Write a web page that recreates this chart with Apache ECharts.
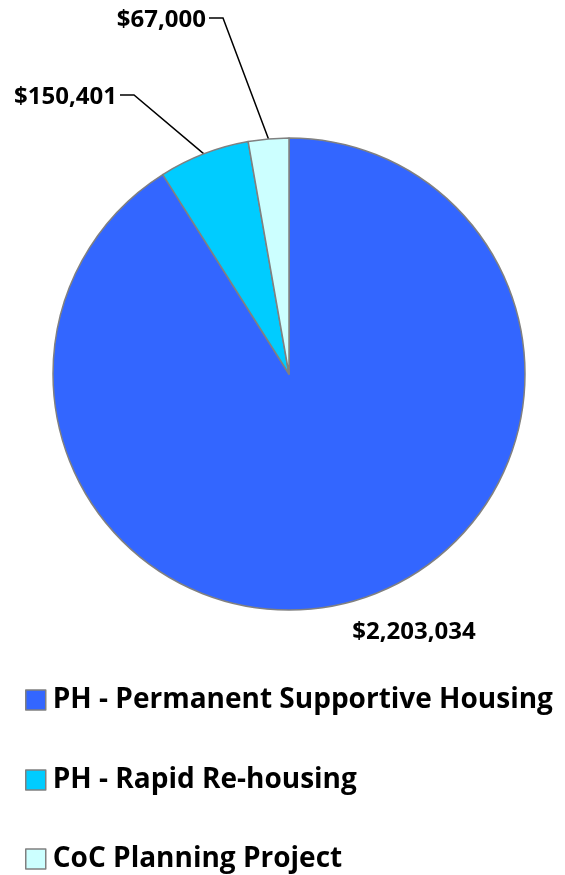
<!DOCTYPE html>
<html>
<head>
<meta charset="utf-8">
<script src="https://cdn.jsdelivr.net/npm/echarts@6/dist/echarts.min.js"></script>
<style>
  html, body { margin: 0; padding: 0; background: #fff; }
  #chart { width: 565px; height: 875px; }
</style>
</head>
<body>
<div id="chart"></div>
<script>
  // data
  const categories = ['PH - Permanent Supportive Housing', 'PH - Rapid Re-housing', 'CoC Planning Project'];
  const amounts = [2203034, 150401, 67000];
  const colors = ['#3366FF', '#00CCFF', '#CCFFFF'];

  // where each label sits (x, y of its anchor)
  const labelPos = [[414, 632], [117, 97], [206, 20]];
  // top of each legend row
  const legendTops = [681, 761, 840];

  const fontFamily = '"Open Sans", Lato, sans-serif';
  const chart = echarts.init(document.getElementById('chart'));

  const fmt = v => '$' + v.toLocaleString('en-US');

  // one legend per row so the rows never wrap into a second column
  const legends = categories.map((name, i) => ({
    orient: 'vertical',
    left: 20,
    top: legendTops[i],
    itemWidth: 20,
    itemHeight: 20,
    icon: 'rect',
    itemStyle: { borderColor: '#808080', borderWidth: 1.5 },
    textStyle: { fontFamily, fontWeight: 'bold', fontSize: 28, color: '#000', padding: [0, 0, 0, 2] },
    data: [name]
  }));

  chart.setOption({
    animation: false,
    legend: legends,
    series: [{
      type: 'pie',
      center: [289, 374],
      radius: 236,
      startAngle: 90,
      clockwise: true,
      itemStyle: { borderColor: '#808080', borderWidth: 1.5 },
      label: {
        show: true,
        position: 'outside',
        formatter: p => fmt(p.value),
        fontFamily,
        fontWeight: 'bold',
        fontSize: 24,
        color: '#000'
      },
      labelLine: { show: true, lineStyle: { color: '#000', width: 1.5 } },
      labelLayout: function (params) {
        const i = params.dataIndex;
        const pos = labelPos[i];
        if (i === 0 || !params.labelLinePoints) {
          return { x: pos[0], y: pos[1], align: 'center', verticalAlign: 'middle' };
        }
        const p0 = params.labelLinePoints[0];
        return {
          x: pos[0], y: pos[1], align: 'right', verticalAlign: 'middle',
          labelLinePoints: [p0, [pos[0] + 17, pos[1] - 2], [pos[0] + 3, pos[1] - 2]]
        };
      },
      data: categories.map((name, i) => ({
        name,
        value: amounts[i],
        itemStyle: { color: colors[i] },
        labelLine: { show: i !== 0 }
      }))
    }]
  });
</script>
</body>
</html>
